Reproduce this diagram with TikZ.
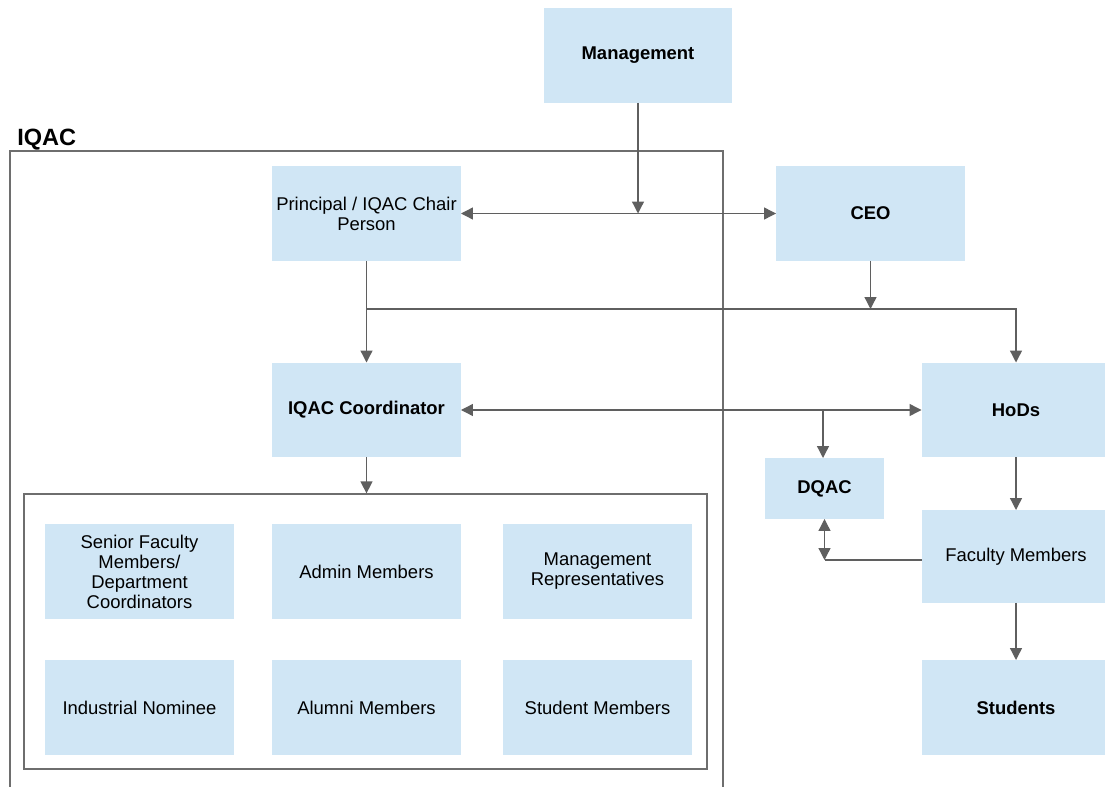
\documentclass[tikz,border=0pt]{standalone}
\usepackage{fontspec}
\setmainfont{Liberation Sans}
\usetikzlibrary{arrows.meta}
\definecolor{boxblue}{RGB}{208,230,245}
\definecolor{linegray}{RGB}{95,95,95}
\definecolor{framegray}{RGB}{110,110,110}

\begin{document}
\begin{tikzpicture}[x=0.02cm,y=-0.02cm]
\tikzset{arrtip/.tip={Triangle[length=6.8pt,width=6.8pt]}}
\tikzset{box/.style={fill=boxblue, minimum width=3.78cm, minimum height=1.9cm, inner sep=1pt, outer sep=0pt, align=center, font=\fontsize{10.5}{11.4}\selectfont}}
\tikzset{boldbox/.style={box, font=\fontsize{10.5}{11.4}\selectfont\bfseries}}
\tikzset{myedgestyle/.style={-arrtip, draw=linegray, line width=0.75pt}}
\tikzset{dbledge/.style={arrtip-arrtip, draw=linegray, line width=0.75pt}}
\tikzset{plainedge/.style={draw=linegray, line width=0.75pt}}

\useasboundingbox (0,0) rectangle (1105,787);

\draw [framegray, line width=0.75pt] (10,787) -- (10,151) -- (723,151) -- (723,787);
\node [anchor=base west, inner sep=0pt, font=\fontsize{13.4}{14}\selectfont\bfseries] (iqac) at (17,146) {IQAC};

\node [boldbox] (mgmt) at (638,55.5) {Management};
\node [box] (principal) at (366.5,213.5) {Principal / IQAC Chair\\Person};
\node [boldbox] (ceo) at (870.5,213.5) {CEO};
\node [boldbox] (coord) at (366.5,410) {IQAC Coordinator};
\node [boldbox] (hods) at (1016,410) {HoDs};
\node [boldbox, minimum width=2.38cm, minimum height=1.22cm] (dqac) at (824.5,488.5) {DQAC};
\node [box, minimum height=1.86cm] (faculty) at (1016,556.5) {Faculty Members};
\node [boldbox] (students) at (1016,707.5) {Students};

\node [draw=framegray, line width=0.75pt, minimum width=13.66cm, minimum height=5.5cm, inner sep=0pt] (members) at (365.5,631.5) {};
\node [box] (senior) at (139.5,571.5) {Senior Faculty\\Members/\\Department\\Coordinators};
\node [box] (admin) at (366.5,571.5) {Admin Members};
\node [box] (mrep) at (597.5,571.5) {Management\\Representatives};
\node [box] (industry) at (139.5,707.5) {Industrial Nominee};
\node [box] (alumni) at (366.5,707.5) {Alumni Members};
\node [box] (smembers) at (597.5,707.5) {Student Members};

\coordinate (split) at (366.5,309);
\coordinate (dqsplit) at (823,410);
\coordinate (fcorner) at (824.5,560);

\draw [myedgestyle] (mgmt.south) -- (mgmt.south |- principal.east);
\draw [dbledge] (principal.east) -- (ceo.west);
\draw [myedgestyle] (principal.south) -- (coord.north);
\draw [myedgestyle] (split) -| (hods.north);
\draw [myedgestyle] (ceo.south) -- (ceo.south |- split);
\draw [dbledge] (coord.east) -- (hods.west);
\draw [myedgestyle] (dqsplit) -- (dqsplit |- dqac.north);
\draw [myedgestyle] (hods.south) -- (faculty.north);
\draw [plainedge] (faculty.west |- fcorner) -- (fcorner);
\draw [dbledge] (fcorner) -- (dqac.south);
\draw [myedgestyle] (faculty.south) -- (students.north);
\draw [myedgestyle] (coord.south) -- (coord.south |- members.north);
\end{tikzpicture}
\end{document}
